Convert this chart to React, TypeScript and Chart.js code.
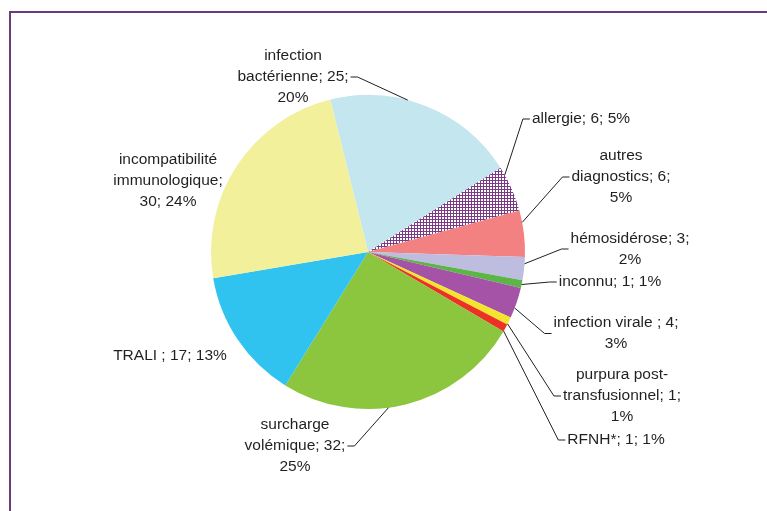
import React, { useEffect, useRef } from "react";
import { Chart, registerables } from "chart.js";

Chart.register(...registerables);

// ---- data ----
const categories = [
  "infection bactérienne",
  "allergie",
  "autres diagnostics",
  "hémosidérose",
  "inconnu",
  "infection virale ",
  "purpura post-transfusionnel",
  "RFNH*",
  "surcharge volémique",
  "TRALI ",
  "incompatibilité immunologique",
];
const values = [25, 6, 6, 3, 1, 4, 1, 1, 32, 17, 30];

// ---- styles ----
const sliceColors = [
  "#c4e6ef",
  "HATCH",
  "#f38181",
  "#bebde0",
  "#5cb647",
  "#a553a6",
  "#f3e52d",
  "#ec3125",
  "#8cc63f",
  "#30c3f0",
  "#f3f09b",
];
const hatchColor = "#7a3a84";

// label layout: offset of label box centre from pie centre (px), wrap width, leader anchor fraction within slice
const labelLayout = [
  { dx: -75, dy: -175, wrap: 125, anchor: 0.4 },
  { dx: 213, dy: -133, wrap: 120, anchor: 0.18 },
  { dx: 253, dy: -75, wrap: 110, anchor: 0.26 },
  { dx: 262, dy: -3, wrap: 135, anchor: 0.29 },
  { dx: 242, dy: 30, wrap: 120, anchor: 0.55 },
  { dx: 248, dy: 81.5, wrap: 135, anchor: 0.67 },
  { dx: 254, dy: 144, wrap: 125, anchor: 0.9 },
  { dx: 248, dy: 188, wrap: 120, anchor: 0.95 },
  { dx: -73, dy: 194, wrap: 115, anchor: 0.57 },
  { dx: -198, dy: 104, wrap: 130, anchor: null },
  { dx: -200, dy: -71, wrap: 120, anchor: null },
];

const FONT = '15.5px "Liberation Sans", Arial, Helvetica, sans-serif';
const LINE_H = 21;
const TEXT_COLOR = "#231f20";

function tokenize(text: string): string[] {
  // split into words, allowing break after hyphen
  const out: string[] = [];
  const words = text.split(" ");
  words.forEach((w, i) => {
    const parts = w.split(/(?<=-)/);
    parts.forEach((p, j) => {
      const last = j === parts.length - 1;
      out.push(p + (last && i < words.length - 1 ? " " : ""));
    });
  });
  return out;
}

function wrapText(ctx: CanvasRenderingContext2D, text: string, maxW: number): string[] {
  const tokens = tokenize(text);
  const lines: string[] = [];
  let cur = "";
  for (const t of tokens) {
    const trial = cur + t;
    if (cur && ctx.measureText(trial.trimEnd()).width > maxW) {
      lines.push(cur.trimEnd());
      cur = t;
    } else {
      cur = trial;
    }
  }
  if (cur) lines.push(cur.trimEnd());
  return lines;
}

const labelPlugin = {
  id: "outLabels",
  afterDraw(chart: any) {
    const ctx: CanvasRenderingContext2D = chart.ctx;
    const meta = chart.getDatasetMeta(0);
    const total = values.reduce((a, b) => a + b, 0);
    ctx.save();
    ctx.font = FONT;
    ctx.fillStyle = TEXT_COLOR;
    ctx.strokeStyle = TEXT_COLOR;
    ctx.lineWidth = 1;
    ctx.textAlign = "center";
    ctx.textBaseline = "middle";
    meta.data.forEach((arc: any, i: number) => {
      const lay = labelLayout[i];
      const pct = Math.round((values[i] / total) * 100);
      const text = `${categories[i]}; ${values[i]}; ${pct}%`;
      const lines = wrapText(ctx, text, lay.wrap);
      const w = Math.max(...lines.map((l) => ctx.measureText(l).width));
      const cx = arc.x + lay.dx;
      const cy = arc.y + lay.dy;
      lines.forEach((l, k) => {
        ctx.fillText(l, cx, cy + (k - (lines.length - 1) / 2) * LINE_H);
      });
      if (lay.anchor !== null) {
        const a = arc.startAngle + (arc.endAngle - arc.startAngle) * lay.anchor;
        const px = arc.x + arc.outerRadius * Math.cos(a);
        const py = arc.y + arc.outerRadius * Math.sin(a);
        const leftSide = cx < arc.x;
        const ex = leftSide ? cx + w / 2 + 2 : cx - w / 2 - 2;
        const tx = leftSide ? ex + 7 : ex - 7;
        ctx.beginPath();
        ctx.moveTo(ex, cy);
        ctx.lineTo(tx, cy);
        ctx.lineTo(px, py);
        ctx.stroke();
      }
    });
    ctx.restore();
  },
};

function makeHatch(): CanvasPattern | string {
  const c = document.createElement("canvas");
  c.width = 3;
  c.height = 3;
  const g = c.getContext("2d");
  if (!g) return hatchColor;
  g.fillStyle = "#ffffff";
  g.fillRect(0, 0, 3, 3);
  g.fillStyle = hatchColor;
  g.fillRect(0, 0, 3, 1);
  g.fillRect(0, 0, 1, 3);
  const p = g.createPattern(c, "repeat");
  return p || hatchColor;
}

export default function App() {
  const ref = useRef<HTMLCanvasElement | null>(null);
  useEffect(() => {
    if (!ref.current) return;
    const hatch = makeHatch();
    const colors = sliceColors.map((c) => (c === "HATCH" ? hatch : c));
    const chart = new Chart(ref.current, {
      type: "pie",
      data: {
        labels: categories,
        datasets: [
          {
            data: values,
            backgroundColor: colors as any,
            borderWidth: 0,
          },
        ],
      },
      options: {
        responsive: false,
        animation: false,
        rotation: -13.9,
        layout: { padding: { left: 211, right: 242, top: 95, bottom: 102 } },
        plugins: {
          legend: { display: false },
          tooltip: { enabled: false },
        },
      },
      plugins: [labelPlugin],
    });
    return () => chart.destroy();
  }, []);
  return (
    <div style={{ position: "absolute", left: 0, top: 0, width: 767, height: 511, background: "#fff", overflow: "hidden" }}>
      <div
        style={{
          position: "absolute",
          left: 9,
          top: 11,
          width: 758,
          height: 500,
          boxSizing: "border-box",
          borderTop: "2px solid #6b3b7f",
          borderLeft: "2px solid #6b3b7f",
        }}
      />
      <canvas ref={ref} width={767} height={511} style={{ position: "absolute", left: 0, top: 0 }} />
    </div>
  );
}
